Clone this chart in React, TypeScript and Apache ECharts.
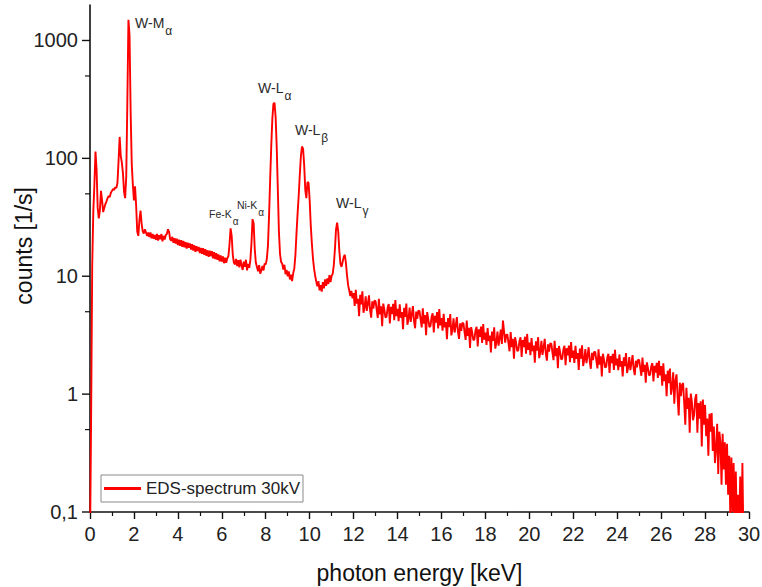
import React, { useEffect, useRef } from 'react';
import * as echarts from 'echarts';

// channel width of the spectrum, keV
const channelStep = 0.05;

// counts [1/s], 0.00 – 2.95 keV
const countsA = [
  0.05, 0.6, 12, 35, 60, 114, 80, 38, 31, 36,
  53, 44, 35, 38, 41, 43, 46, 48, 47, 51,
  53, 55, 54, 57, 56, 62, 95, 152, 105, 92,
  75, 52, 46, 70, 300, 1500, 1100, 250, 90, 60,
  44, 58, 40, 24, 22, 30, 36, 28, 24, 23,
  25, 23.5, 22, 23.5, 21.5, 23.5, 21, 22.8, 20.8, 22.4,
];
// 3.00 – 5.95 keV
const countsB = [
  20.4, 22.9, 20.1, 22.3, 20.6, 22.8, 19.8, 22.0, 20.5, 22.4,
  22.8, 25.0, 23.8, 20.6, 20.0, 21.6, 19.2, 21.0, 18.9, 20.8,
  18.4, 20.4, 18.1, 20.2, 17.8, 19.9, 17.6, 19.5, 17.2, 19.3,
  17.4, 19.0, 16.8, 18.7, 16.5, 18.3, 16.1, 18.0, 16.4, 17.7,
  15.7, 17.4, 15.5, 17.3, 15.2, 17.0, 14.9, 16.6, 14.6, 16.5,
  14.8, 16.3, 14.2, 16.0, 14.0, 15.7, 13.8, 15.3, 13.4, 15.0,
];
// 6.00 – 8.95 keV
const countsC = [
  13.3, 14.7, 12.9, 14.4, 13.0, 14.2, 14.8, 18.5, 25.5, 22.0,
  15.2, 13.0, 12.6, 14.0, 12.2, 13.7, 11.9, 13.8, 12.4, 11.3,
  13.3, 12.0, 13.8, 11.2, 12.7, 11.8, 13.7, 19.0, 30.5, 28.0,
  17.0, 13.0, 12.0, 11.0, 12.4, 10.5, 11.2, 12.2, 11.2, 12.8,
  12.6, 14.0, 18.0, 32, 65, 125, 215, 290, 296, 225,
  125, 55, 24, 15.5, 13.2, 12.8, 11.4, 12.5, 10.4, 11.3,
];
// 9.00 – 11.95 keV
const countsD = [
  10.0, 11.0, 9.4, 10.3, 9.1, 10.6, 11.6, 15.0, 23, 34,
  48, 72, 104, 126, 121, 88, 54, 46, 63, 62,
  44, 27, 19, 14.2, 11.6, 10.1, 9.0, 8.2, 9.1, 7.6,
  8.4, 7.4, 8.9, 7.9, 9.4, 8.3, 9.6, 8.6, 10.2, 8.9,
  10.1, 10.5, 12.5, 17, 25, 28.5, 24, 16.5, 12.8, 12.0,
  13.2, 14.6, 15.2, 13.0, 10.2, 8.4, 7.6, 6.8, 7.5, 6.5,
];
// 12.00 – 17.95 keV
const countsE = [
  7.19, 5.59, 7.68, 5.86, 6.45, 4.58, 6.95, 5.76, 7.44, 4.9,
  5.45, 6.74, 5.09, 5.85, 6.88, 5.15, 4.45, 6.13, 5.32, 6.21,
  6.16, 5.21, 4.43, 6.43, 4.75, 5.57, 3.76, 5.86, 5.21, 4.46,
  4.54, 5.42, 5.81, 3.97, 5.5, 4.77, 5.84, 4.24, 6.27, 4.59,
  5.29, 4.15, 5.77, 4.45, 4.96, 3.56, 5.39, 4.52, 5.86, 3.88,
  4.37, 5.42, 4.1, 4.73, 5.58, 4.19, 3.62, 5.01, 4.36, 5.1,
  5.07, 4.3, 3.68, 5.34, 3.96, 4.69, 3.16, 4.96, 4.31, 3.71,
  3.78, 4.53, 4.86, 3.33, 4.62, 4.05, 4.96, 3.6, 5.26, 3.83,
  4.41, 3.46, 4.79, 3.68, 4.09, 2.93, 4.41, 3.7, 4.78, 3.15,
  3.55, 4.39, 3.33, 3.8, 4.51, 3.41, 2.94, 3.98, 3.44, 4.02,
  3.99, 3.38, 2.88, 4.2, 3.11, 3.66, 2.47, 3.7, 3.33, 2.87,
  2.91, 3.48, 3.73, 2.54, 3.54, 3.06, 3.74, 2.72, 3.93, 2.89,
];
// 18.00 – 23.95 keV
const countsF = [
  3.32, 2.61, 3.64, 2.82, 3.14, 2.26, 3.4, 2.83, 3.68, 2.43,
  2.74, 3.4, 2.58, 2.99, 3.53, 2.67, 4.2, 3.4, 2.73, 3.2,
  3.19, 2.71, 2.31, 3.36, 2.5, 2.94, 2.0, 3.04, 2.7, 2.32,
  2.36, 2.82, 3.03, 2.07, 2.88, 2.51, 3.07, 2.2, 3.24, 2.37,
  2.73, 2.14, 2.99, 2.31, 2.58, 1.85, 2.8, 2.34, 3.04, 2.02,
  2.27, 2.83, 2.15, 2.49, 2.94, 2.21, 1.92, 2.64, 2.29, 2.69,
  2.68, 2.27, 1.94, 2.83, 2.1, 2.46, 1.66, 2.56, 2.28, 1.97,
  2.0, 2.4, 2.57, 1.76, 2.45, 2.13, 2.58, 1.87, 2.77, 2.03,
  2.34, 1.84, 2.57, 1.99, 2.23, 1.6, 2.43, 2.0, 2.6, 1.73,
  1.95, 2.41, 1.83, 2.12, 2.5, 1.89, 1.64, 2.24, 1.94, 2.28,
  2.28, 1.93, 1.65, 2.4, 1.78, 2.09, 1.41, 2.2, 1.95, 1.68,
  1.71, 2.05, 2.2, 1.51, 2.1, 1.83, 2.2, 1.6, 2.38, 1.75,
];
// 24.00 – 29.80 keV
const countsG = [
  2.0, 1.6, 2.17, 1.71, 1.91, 1.41, 2.05, 1.73, 2.23, 1.51,
  1.69, 2.06, 1.6, 1.83, 2.14, 1.63, 1.45, 1.92, 1.69, 1.96,
  1.94, 1.66, 1.43, 2.04, 1.54, 1.77, 1.25, 1.86, 1.66, 1.44,
  1.46, 1.72, 1.83, 1.28, 1.74, 1.52, 1.84, 1.37, 1.92, 1.44,
  1.73, 1.18, 1.83, 1.29, 1.47, 0.96, 1.58, 1.24, 1.65, 0.99,
  1.15, 1.53, 0.83, 1.3, 1.47, 0.94, 0.66, 1.25, 0.96, 1.2,
  1.24, 0.84, 0.55, 1.13, 0.75, 0.93, 0.47, 1.01, 0.86, 0.6,
  0.66, 0.91, 1.0, 0.47, 0.84, 0.62, 0.87, 0.36, 0.9, 0.55,
  0.81, 0.44, 0.62, 0.3, 0.68, 0.48, 0.69, 0.33, 0.53, 0.26,
  0.34, 0.56, 0.21, 0.48, 0.39, 0.17, 0.46, 0.23, 0.39, 0.17,
  0.38, 0.14, 0.3, 0.09, 0.29, 0.1, 0.26, 0.07, 0.22, 0.066,
  0.14, 0.06, 0.2, 0.05, 0.26, 0.05, 0.04,
];
const segmentStarts = [0, 3, 6, 9, 12, 18, 24];
const segments = [countsA, countsB, countsC, countsD, countsE, countsF, countsG];

const seriesName = 'EDS-spectrum 30kV';
const xAxisTitle = 'photon energy [keV]';
const yAxisTitle = 'counts [1/s]';
const yMajorTicks = [0.1, 1, 10, 100, 1000];
const yMinorTicks = [0.5, 5, 50, 500];

// peak annotations: label text, subscript, anchor (energy keV, counts) of text left / middle
const peakLabels = [
  { main: 'W-M', sub: 'α', energy: 2.05, counts: 1420, big: true },
  { main: 'W-L', sub: 'α', energy: 7.65, counts: 398, big: true },
  { main: 'W-L', sub: 'β', energy: 9.33, counts: 175, big: true },
  { main: 'W-L', sub: 'γ', energy: 11.2, counts: 42, big: true },
  { main: 'Fe-K', sub: 'α', energy: 5.42, counts: 33.8, big: false },
  { main: 'Ni-K', sub: 'α', energy: 6.69, counts: 40.3, big: false },
];

const FONT = '"Liberation Sans", Arial, sans-serif';

export default function App() {
  const ref = useRef<HTMLDivElement>(null);

  useEffect(() => {
    document.body.style.margin = '0';
    const chart = echarts.init(ref.current!, null, { renderer: 'svg' });

    const data: number[][] = [];
    segments.forEach((vals, s) => {
      vals.forEach((v, i) => {
        data.push([+(segmentStarts[s] + i * channelStep).toFixed(2), v]);
      });
    });

    chart.setOption({
      animation: false,
      grid: { left: 90, right: 13, top: 5, bottom: 75, containLabel: false, outerBoundsMode: 'none' },
      legend: {
        show: true,
        data: [seriesName],
        left: 101,
        top: 475,
        orient: 'horizontal',
        padding: [5, 3, 5, 3],
        icon: 'rect',
        itemWidth: 37,
        itemHeight: 3,
        borderColor: '#8a8a8a',
        borderWidth: 1,
        itemStyle: { color: '#ff0000' },
        textStyle: { fontSize: 17, color: '#222', fontFamily: FONT },
      },
      xAxis: {
        type: 'value',
        min: 0,
        max: 30,
        interval: 2,
        name: xAxisTitle,
        nameLocation: 'middle',
        nameGap: 49,
        nameTextStyle: { fontSize: 23, color: '#111', fontFamily: FONT },
        axisLine: { show: true, onZero: false, lineStyle: { color: '#111', width: 1.6 } },
        axisTick: { show: true, inside: false, length: 7, lineStyle: { color: '#111', width: 1.4 } },
        minorTick: { show: true, splitNumber: 2, length: 4, lineStyle: { color: '#111', width: 1.2 } },
        axisLabel: { fontSize: 20, color: '#222', margin: 12, fontFamily: FONT },
        splitLine: { show: false },
      },
      yAxis: {
        type: 'log',
        logBase: 10,
        min: 0.1,
        max: 2000,
        axisLine: { show: true, onZero: false, lineStyle: { color: '#111', width: 1.6 } },
        axisTick: { show: false },
        axisLabel: {
          fontSize: 20,
          color: '#222',
          margin: 12,
          fontFamily: FONT,
          showMaxLabel: false,
          formatter: (v: number) => (v < 1 ? String(+v.toFixed(3)).replace('.', ',') : String(Math.round(v))),
        },
        splitLine: { show: false },
      },
      series: [
        {
          name: seriesName,
          type: 'line',
          data,
          symbol: 'none',
          showSymbol: false,
          clip: true,
          lineStyle: { color: '#ff0000', width: 1.9 },
          itemStyle: { color: '#ff0000' },
        },
      ],
    });

    const x0 = chart.convertToPixel({ xAxisIndex: 0 }, 0) as number;
    const yTop = chart.convertToPixel({ yAxisIndex: 0 }, 2000) as number;
    const yBottom = chart.convertToPixel({ yAxisIndex: 0 }, 0.1) as number;
    const graphics: any[] = [];
    yMajorTicks.forEach((v) => {
      const y = chart.convertToPixel({ yAxisIndex: 0 }, v) as number;
      graphics.push({
        type: 'line',
        shape: { x1: x0 - 8, y1: y, x2: x0, y2: y },
        style: { stroke: '#111', lineWidth: 1.4 },
        silent: true,
      });
    });
    yMinorTicks.forEach((v) => {
      const y = chart.convertToPixel({ yAxisIndex: 0 }, v) as number;
      graphics.push({
        type: 'line',
        shape: { x1: x0 - 5, y1: y, x2: x0, y2: y },
        style: { stroke: '#111', lineWidth: 1.2 },
        silent: true,
      });
    });
    // y axis title, placed slightly above the axis centre as in the reference
    graphics.push({
      type: 'text',
      x: x0 - 66,
      y: yTop + (yBottom - yTop) * 0.475,
      rotation: Math.PI / 2,
      silent: true,
      style: {
        text: yAxisTitle,
        fontSize: 23,
        fontFamily: FONT,
        fill: '#111',
        align: 'center',
        verticalAlign: 'middle',
      },
    });

    const ctx = document.createElement('canvas').getContext('2d')!;
    peakLabels.forEach((p) => {
      const [px, py] = chart.convertToPixel({ gridIndex: 0 }, [p.energy, p.counts]) as number[];
      const size = p.big ? 14 : 10.5;
      const subSize = p.big ? 12 : 10;
      ctx.font = `${size}px ${FONT}`;
      const w = ctx.measureText(p.main).width;
      graphics.push({
        type: 'text',
        x: px,
        y: py,
        silent: true,
        style: {
          text: p.main,
          fontSize: size,
          fontFamily: FONT,
          fill: '#2a2a2a',
          align: 'left',
          verticalAlign: 'middle',
        },
      });
      graphics.push({
        type: 'text',
        x: px + w + 1,
        y: py + (p.big ? 8.5 : 7.5),
        silent: true,
        style: {
          text: p.sub,
          fontSize: subSize,
          fontFamily: FONT,
          fill: '#2a2a2a',
          align: 'left',
          verticalAlign: 'middle',
        },
      });
    });

    chart.setOption({ graphic: graphics });

    return () => chart.dispose();
  }, []);

  return <div ref={ref} style={{ width: 762, height: 587 }} />;
}
